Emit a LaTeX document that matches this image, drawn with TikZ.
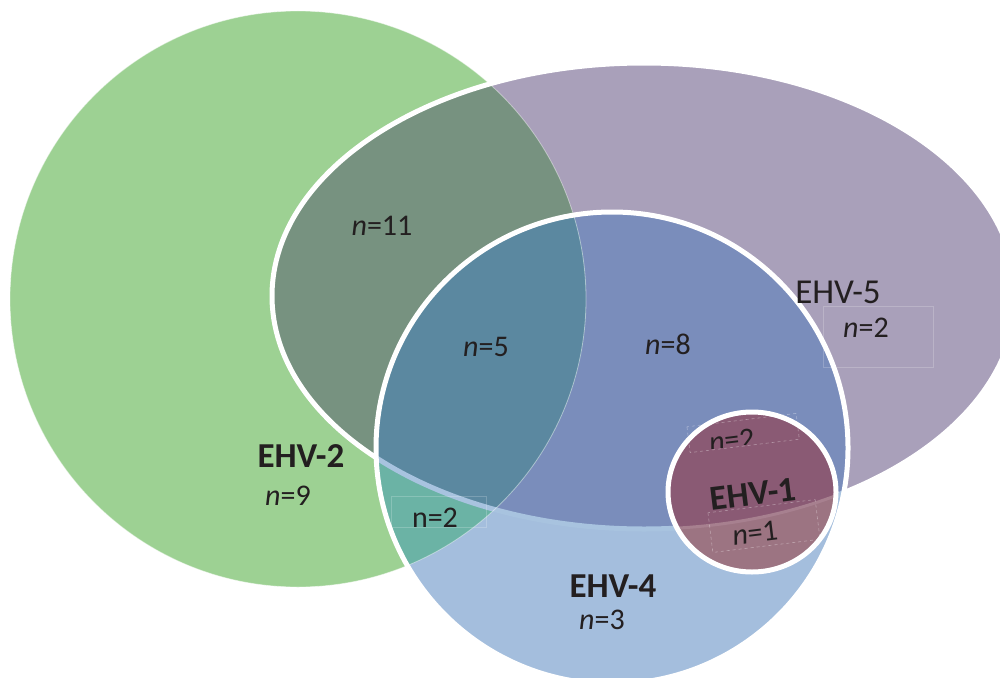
\documentclass[tikz,border=0pt]{standalone}
\usepackage{fontspec}
\setmainfont{Carlito}
\definecolor{cG}{HTML}{9DD193}
\definecolor{cP}{HTML}{A9A0BA}
\definecolor{cGP}{HTML}{779280}
\definecolor{cB}{HTML}{A4BEDD}
\definecolor{cBP}{HTML}{7A8DBB}
\definecolor{cBG}{HTML}{6BB3A5}
\definecolor{cBGP}{HTML}{5B88A0}
\definecolor{cBand}{HTML}{A8C3DF}
\definecolor{cC}{HTML}{9C7482}
\definecolor{cCP}{HTML}{8A5A74}
\definecolor{cCband}{HTML}{A7808F}
\definecolor{txt}{HTML}{231F20}
\newcommand{\Gc}{(298,299) circle [radius=288pt]}
\newcommand{\Pc}{(644,296) ellipse [x radius=372pt, y radius=233pt]}
\newcommand{\Bc}{(612,448) circle [radius=236pt]}
\newcommand{\Cc}{(752,492) ellipse [x radius=84pt, y radius=80pt]}
\begin{document}
\begin{tikzpicture}[x=1pt,y=-1pt,
  nlbl/.style={text=txt, inner sep=0pt, font=\fontsize{30}{36}\selectfont},
  hlbl/.style={text=txt, inner sep=0pt, font=\fontsize{35}{42}\selectfont},
  blbl/.style={text=txt, inner sep=0pt, font=\fontsize{35}{42}\selectfont\bfseries},
  outline/.style={draw=white, line width=5pt},
  faintbox/.style={draw=white, opacity=0.2, line width=0.6pt},
  faintdash/.style={draw=white, opacity=0.35, line width=0.6pt, dashed}]
\useasboundingbox (0,0) rectangle (1000,677);
\fill[white] (0,0) rectangle (1000,677);
\begin{scope}
\clip (0,0) rectangle (1000,677);
% EHV-2 and EHV-5
\fill[cG] \Gc;
\fill[cP] \Pc;
\begin{scope}\clip \Gc; \fill[cGP] \Pc; \end{scope}
\draw[white, line width=0.8pt, opacity=0.45] \Gc;
\draw[outline] \Pc;
% EHV-4
\fill[cB] \Bc;
\begin{scope}
  \clip \Bc;
  \fill[cBP] \Pc;
  \fill[cBG] \Gc;
  \begin{scope}\clip \Gc; \fill[cBGP] \Pc; \end{scope}
  \draw[cBand, line width=5pt] \Pc;
  \draw[white, line width=0.8pt, opacity=0.45] \Gc;
\end{scope}
\draw[outline] \Bc;
% EHV-1
\fill[cC] \Cc;
\begin{scope}
  \clip \Cc;
  \fill[cCP] \Pc;
  \draw[cCband, line width=3pt] \Pc;
\end{scope}
\draw[outline] \Cc;
\end{scope}
% faint text boxes
\draw[faintbox] (823,306) rectangle (933,367);
\draw[faintbox] (391,496) rectangle (486,527);
\draw[faintdash, rotate around={7:(743,432)}] (688,420) rectangle (798,446);
\draw[faintdash, rotate around={7:(764,526)}] (710,506) rectangle (818,546);
% labels
\node[nlbl, anchor=base] (n11) at (382,235) {\textit{n}=11};
\node[nlbl, anchor=base] (n5) at (486,356) {\textit{n}=5};
\node[nlbl, anchor=base] (n8) at (668,354) {\textit{n}=8};
\node[hlbl, anchor=base] (e5) at (838,303) {EHV-5};
\node[nlbl, anchor=base] (n2p) at (866,337) {\textit{n}=2};
\node[blbl, anchor=base] (e2) at (301,467) {EHV-2};
\node[nlbl, anchor=base] (n9) at (288,505) {\textit{n}=9};
\node[nlbl, anchor=base] (n2t) at (435,527) {n=2};
\node[blbl, anchor=base] (e4) at (613,597) {EHV-4};
\node[nlbl, anchor=base] (n3) at (602,629) {\textit{n}=3};
\node[blbl, rotate=7] (e1) at (753,494) {EHV-1};
\node[nlbl, rotate=7] (n1) at (755,533) {\textit{n}=1};
\begin{scope}[rotate around={7:(733,450)}]
  \clip (680,400) rectangle (800,446);
  \node[nlbl, anchor=base, transform shape] (n2c) at (733,450) {\textit{n}=2};
\end{scope}
\end{tikzpicture}
\end{document}
